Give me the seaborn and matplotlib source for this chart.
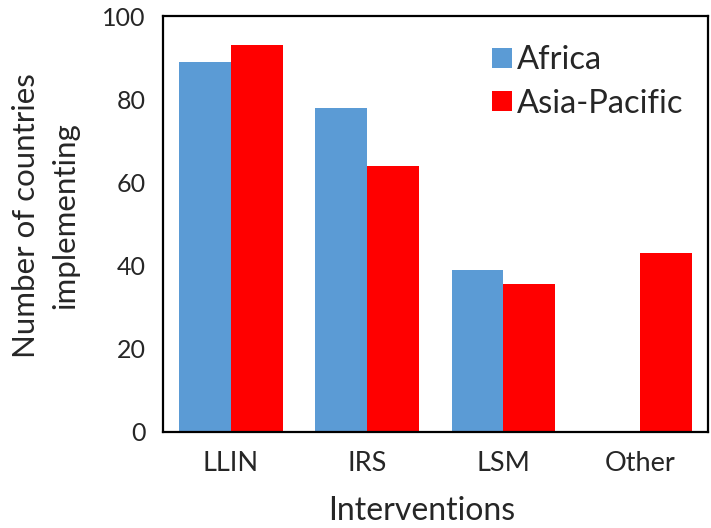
import pandas as pd
import seaborn as sns
import matplotlib.pyplot as plt

sns.set_theme(style="white")
plt.rcParams["font.family"] = ["Lato", "DejaVu Sans"]

# Values
interventions = ["LLIN", "IRS", "LSM", "Other"]
africa = [89, 78, 39, 0]
asia_pacific = [93, 64, 35.5, 43]

df = pd.DataFrame({
    "Intervention": interventions * 2,
    "Region": ["Africa"] * 4 + ["Asia-Pacific"] * 4,
    "Count": africa + asia_pacific,
})

fig = plt.figure(figsize=(7.11, 5.28), dpi=100)
ax = fig.add_axes([0.2286, 0.182, 0.767, 0.787])

sns.barplot(data=df, x="Intervention", y="Count", hue="Region",
            palette={"Africa": "#5B9BD5", "Asia-Pacific": "#FF0000"},
            width=0.76, linewidth=0, saturation=1, ax=ax)

ax.set_ylim(0, 100)
ax.set_xlim(-0.5, 3.5)
ax.set_yticks([0, 20, 40, 60, 80, 100])
ax.tick_params(axis="y", length=0, pad=12, labelsize=18)
ax.tick_params(axis="x", length=0, pad=14, labelsize=19.5)

for s in ax.spines.values():
    s.set_visible(True)
    s.set_color("black")
    s.set_linewidth(1.6)

ax.set_xlabel("Interventions", fontsize=23)
ax.xaxis.set_label_coords(0.475, -0.155)
ax.set_ylabel("Number of countries\nimplementing", fontsize=22.5,
              linespacing=1.5)
ax.yaxis.set_label_coords(-0.153, 0.52)

ax.legend(loc="upper left", bbox_to_anchor=(0.563, 0.985), frameon=False,
          fontsize=23.5, handlelength=0.6, handleheight=0.6,
          handletextpad=0.15, labelspacing=0.4, borderaxespad=0.3)

fig.savefig("out.png", dpi=100)
